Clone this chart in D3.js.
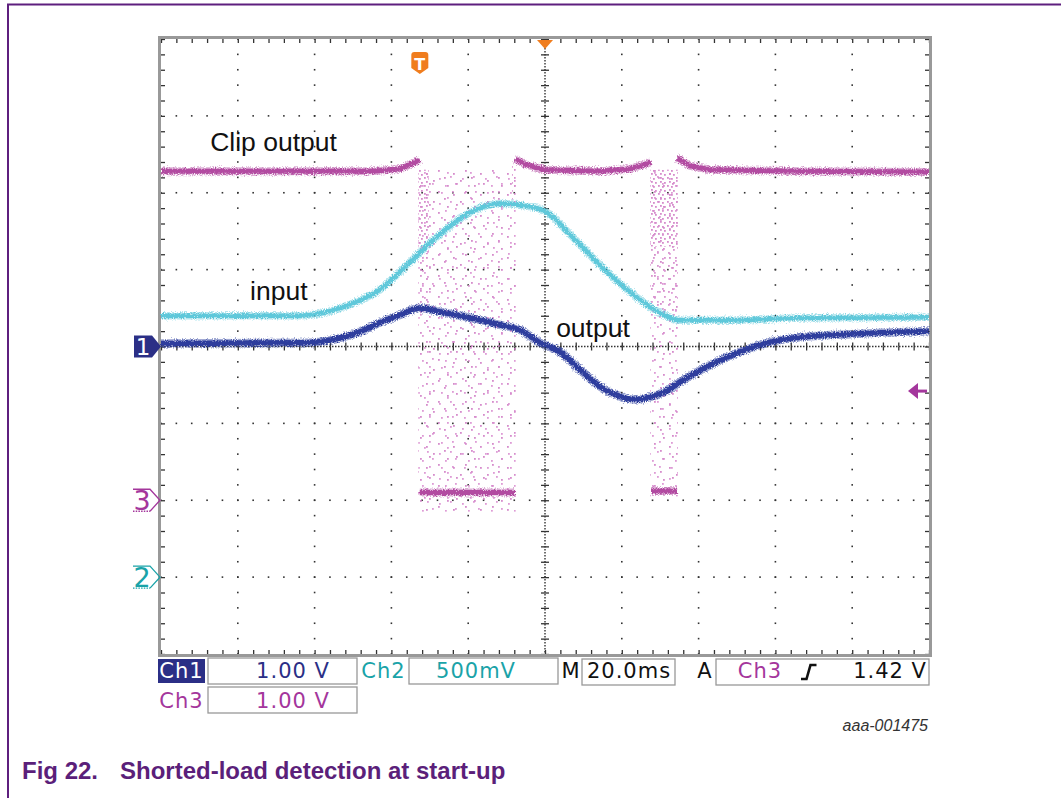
<!DOCTYPE html>
<html>
<head>
<meta charset="utf-8">
<script src="https://cdn.jsdelivr.net/npm/d3@7"></script>
<style>
  body { margin: 0; background: #fff; }
  svg { display: block; }
</style>
</head>
<body>
<svg id="chart" width="1061" height="798"></svg>
<script>
// --- data: [time in ms, volts] ---
const inputTrace = [
  [-100, 1.70], [-75, 1.70], [-64, 1.70], [-56, 1.73], [-48.2, 1.80], [-43, 1.87],
  [-37.8, 1.985], [-29.2, 2.19], [-20.3, 2.36], [-11.7, 2.43], [-6.5, 2.42], [0, 2.38],
  [6.5, 2.23], [14.3, 2.03], [22.1, 1.855], [29.9, 1.72], [35.2, 1.67], [45.6, 1.67],
  [66.4, 1.685], [100, 1.69]
];
const outputTrace = [
  [-100, 0.04], [-62, 0.05], [-53.4, 0.11], [-48.2, 0.19], [-43, 0.31], [-37.8, 0.41],
  [-32.6, 0.50], [-27.3, 0.45], [-22.1, 0.40], [-16.9, 0.345], [-11.7, 0.28], [-6.5, 0.215],
  [-1.3, 0.05], [3.9, -0.07], [9.1, -0.30], [14.3, -0.52], [19.5, -0.65], [23.4, -0.69],
  [27.3, -0.66], [31.2, -0.59], [35.2, -0.46], [40.4, -0.31], [45.6, -0.18], [50.8, -0.07],
  [56, 0.02], [61.2, 0.085], [66.4, 0.12], [79.4, 0.16], [100, 0.20]
];
// clip output comes in pieces: high level, low level while clipping, high again...
const clipTrace = [
  [[-100, 4.28], [-45, 4.28], [-37.8, 4.31], [-34.6, 4.38], [-32.6, 4.43]],
  [[-32.6, 0.10], [-7.8, 0.10]],
  [[-7.8, 4.44], [-5.2, 4.37], [0, 4.30], [14.3, 4.28], [22.1, 4.31], [26.8, 4.38], [27.6, 4.40]],
  [[27.6, 0.12], [34.4, 0.12]],
  [[34.4, 4.45], [37.8, 4.35], [43, 4.30], [66.4, 4.28], [100, 4.27]]
];
// scattered samples while the output toggles
const clipBursts = [
  { from: -33.0, to: -7.6, top: 4.3, bottom: -0.15 },
  { from: 27.4, to: 34.6, top: 4.3, bottom: 0.05 }
];
const clipBurstsDense = [
  { from: -33.0, to: -30.3, top: 4.3, bottom: 3.2 },
  { from: -8.6, to: -7.6, top: 4.4, bottom: 3.9 },
  { from: 27.4, to: 34.6, top: 4.3, bottom: 3.3 }
];
const clipBurstsMedium = [
  { from: -33.0, to: -30.3, top: 3.2, bottom: 2.4 },
  { from: 27.4, to: 34.6, top: 3.3, bottom: 2.4 }
];

const triggerTime = -32.6;   // ms
const triggerLevel = 1.42;   // V on Ch3
const traceLabels = ["Clip output", "input", "output"];
const channelNames = ["Ch1", "Ch2", "Ch3"];
const channelScales = ["1.00 V", "500mV", "1.00 V"];
const timebase = "20.0ms";
const triggerText = "1.42 V";
const figureId = "aaa-001475";
const captionNumber = "Fig 22.";
const captionTitle = "Shorted-load detection at start-up";

// --- setup ---
const svg = d3.select("#chart");
const plotLeft = 161, plotRight = 929, plotTop = 39, plotBottom = 654;

const x = d3.scaleLinear().domain([-100, 100]).range([plotLeft, plotRight]);
const yDiv = d3.scaleLinear().domain([-4, 4]).range([plotBottom, plotTop]);

const ch1 = { vdiv: 1, ground: 0, color: "#2d3d9d", text: "#2b2f86" };
const ch2 = { vdiv: 0.5, ground: -3, color: "#5fc8da", text: "#1aa3a8" };
const ch3 = { vdiv: 1, ground: -2, color: "#b24ca1", text: "#a4369c" };
const yOf = ch => v => yDiv(v / ch.vdiv + ch.ground);

const defs = svg.append("defs");

// noise on the traces
const fuzz = defs.append("filter").attr("id", "fuzz")
  .attr("filterUnits", "userSpaceOnUse")
  .attr("x", 140).attr("y", 20).attr("width", 810).attr("height", 660);
fuzz.append("feTurbulence").attr("type", "fractalNoise")
  .attr("baseFrequency", "0.9").attr("numOctaves", 2).attr("seed", 4).attr("result", "n");
fuzz.append("feDisplacementMap").attr("in", "SourceGraphic").attr("in2", "n")
  .attr("scale", 6).attr("xChannelSelector", "R").attr("yChannelSelector", "G");

// dot patterns for the scattered samples
function dotPattern(id, w, h, dots, size, color) {
  const p = defs.append("pattern").attr("id", id)
    .attr("patternUnits", "userSpaceOnUse").attr("width", w).attr("height", h);
  p.selectAll("rect").data(dots).enter().append("rect")
    .attr("x", d => d[0]).attr("y", d => d[1])
    .attr("width", size).attr("height", size)
    .attr("fill", color);
}
dotPattern("dotsA", 23, 25, [[2, 3], [13, 1], [8, 10], [18, 8], [4, 17], [15, 16], [10, 22]], 1.8, "#d98acf");
dotPattern("dotsB", 27, 21, [[6, 2], [21, 5], [12, 9], [1, 12], [24, 15], [15, 17]], 1.8, "#cf78c4");
dotPattern("dotsC", 9, 8, [[1, 1], [5, 2], [3, 5], [7, 6]], 1.8, "#cf78c4");
dotPattern("dotsD", 11, 13, [[2, 2], [8, 5], [4, 10]], 1.8, "#d384c9");

// --- outer frame ---
svg.append("path")
  .attr("d", "M8,798 V4.5 H1061")
  .attr("fill", "none").attr("stroke", "#5e1f7e").attr("stroke-width", 2);

// --- graticule ---
const grid = svg.append("g");
const fine = d3.range(-4, 4.001, 0.2);
const tMajor = d3.range(-80, 81, 20);
const tMinor = d3.range(-100, 100.001, 4);

// vertical dotted lines
tMajor.filter(t => t !== 0).forEach(t => {
  grid.selectAll(null).data(fine).enter().append("rect")
    .attr("x", x(t) - 0.8).attr("y", d => yDiv(d) - 0.8)
    .attr("width", 1.6).attr("height", 1.6).attr("fill", "#333");
});
// horizontal dotted lines
d3.range(-3, 4).filter(d => d !== 0).forEach(dv => {
  grid.selectAll(null).data(tMinor).enter().append("rect")
    .attr("x", t => x(t) - 0.8).attr("y", yDiv(dv) - 0.8)
    .attr("width", 1.6).attr("height", 1.6).attr("fill", "#333");
});
// centre axes with ticks
grid.append("line")
  .attr("x1", x(0)).attr("x2", x(0)).attr("y1", plotTop).attr("y2", plotBottom)
  .attr("stroke", "#333").attr("stroke-width", 1.4).attr("stroke-dasharray", "1.5,1.5");
grid.append("line")
  .attr("x1", plotLeft).attr("x2", plotRight).attr("y1", yDiv(0)).attr("y2", yDiv(0))
  .attr("stroke", "#333").attr("stroke-width", 1.4).attr("stroke-dasharray", "1.5,1.5");
const centreAxes = [
  [d3.axisLeft(yDiv).tickValues(fine), `translate(${x(0)},0)`],
  [d3.axisRight(yDiv).tickValues(fine), `translate(${x(0)},0)`],
  [d3.axisTop(x).tickValues(tMinor), `translate(0,${yDiv(0)})`],
  [d3.axisBottom(x).tickValues(tMinor), `translate(0,${yDiv(0)})`]
];
// edge ticks
const edgeAxes = [
  [d3.axisBottom(x).tickValues(tMinor), `translate(0,${plotTop})`],
  [d3.axisTop(x).tickValues(tMinor), `translate(0,${plotBottom})`],
  [d3.axisRight(yDiv).tickValues(fine), `translate(${plotLeft},0)`],
  [d3.axisLeft(yDiv).tickValues(fine), `translate(${plotRight},0)`]
];
centreAxes.concat(edgeAxes).forEach(([ax, tr]) => {
  grid.append("g").attr("transform", tr)
    .call(ax.tickSize(4).tickSizeOuter(0).tickFormat(""))
    .call(g => g.select(".domain").remove())
    .call(g => g.selectAll("line").attr("stroke", "#333").attr("stroke-width", 1.3));
});

grid.append("rect")
  .attr("x", plotLeft - 1.5).attr("y", plotTop - 1.5)
  .attr("width", plotRight - plotLeft + 3).attr("height", plotBottom - plotTop + 3)
  .attr("fill", "none").attr("stroke", "#999").attr("stroke-width", 3);

// --- scattered clip samples ---
const y3 = yOf(ch3);
const bursts = svg.append("g").attr("opacity", 0.85);
function burstRects(data, pid) {
  bursts.selectAll(null).data(data).enter().append("rect")
    .attr("x", d => x(d.from)).attr("width", d => x(d.to) - x(d.from))
    .attr("y", d => y3(d.top)).attr("height", d => y3(d.bottom) - y3(d.top))
    .attr("fill", `url(#${pid})`);
}
burstRects(clipBursts, "dotsA");
burstRects(clipBursts, "dotsB");
burstRects(clipBurstsDense, "dotsC");
burstRects(clipBurstsMedium, "dotsD");

// --- traces ---
function drawTrace(data, ch, curve, width) {
  const yc = yOf(ch);
  const line = d3.line().x(d => x(d[0])).y(d => yc(d[1])).curve(curve);
  const g = svg.append("g").attr("filter", "url(#fuzz)");
  g.append("path").datum(data)
    .attr("fill", "none").attr("stroke", ch.color).attr("stroke-opacity", 0.45)
    .attr("stroke-width", width + 3).attr("d", line);
  g.append("path").datum(data)
    .attr("fill", "none").attr("stroke", ch.color)
    .attr("stroke-width", width).attr("d", line);
}
clipTrace.forEach(seg => drawTrace(seg, ch3, d3.curveLinear, 5));
drawTrace(inputTrace, ch2, d3.curveMonotoneX, 4.5);
drawTrace(outputTrace, ch1, d3.curveMonotoneX, 5.5);

// --- trace labels ---
const labelFont = "'Liberation Sans', Arial, sans-serif";
const labelPos = [[x(-87.2), 151], [x(-76.8), 300], [x(2.9), 337]];
svg.selectAll(null).data(traceLabels).enter().append("text")
  .attr("x", (d, i) => labelPos[i][0]).attr("y", (d, i) => labelPos[i][1])
  .attr("font-family", labelFont).attr("font-size", 26.5).attr("fill", "#111")
  .text(d => d);

// --- markers ---
const orange = "#f07d1e";
svg.append("path")
  .attr("d", `M${x(0) - 8},${plotTop + 1} H${x(0) + 8} L${x(0)},${plotTop + 10} Z`)
  .attr("fill", orange);
const tx = x(triggerTime);
svg.append("path")
  .attr("d", `M${tx - 8.5},55 Q${tx - 8.5},52 ${tx - 5.5},52 H${tx + 5.5} Q${tx + 8.5},52 ${tx + 8.5},55 V68 L${tx},74 L${tx - 8.5},68 Z`)
  .attr("fill", orange);
svg.append("text").attr("x", tx).attr("y", 70).attr("text-anchor", "middle")
  .attr("font-family", "'DejaVu Sans', sans-serif").attr("font-weight", "bold")
  .attr("font-size", 16).attr("fill", "#fff").text("T");

// channel ground markers
const markerFont = "'DejaVu Sans', sans-serif";
const g1 = svg.append("g").attr("transform", `translate(${plotLeft},${yDiv(ch1.ground)})`);
g1.append("path").attr("d", "M-27,-11 H-9 L0,0 L-9,11 H-27 Z").attr("fill", ch1.text);
g1.append("text").attr("x", -18).attr("y", 8.5).attr("text-anchor", "middle")
  .attr("font-family", markerFont).attr("font-size", 23).attr("fill", "#fff").text("1");

[[ch3, "3"], [ch2, "2"]].forEach(([ch, lab]) => {
  const g = svg.append("g").attr("transform", `translate(${plotLeft - 1},${yDiv(ch.ground)})`);
  g.append("path").attr("d", "M-27,-11 H-10 L0,0 L-10,11")
    .attr("fill", "none").attr("stroke", ch.text).attr("stroke-width", 1.3);
  g.append("path").attr("d", "M-27,11 H-10")
    .attr("fill", "none").attr("stroke", ch.text).attr("stroke-width", 1.3)
    .attr("stroke-dasharray", "1.5,1.2");
  g.append("text").attr("x", -18).attr("y", 9.5).attr("text-anchor", "middle")
    .attr("font-family", markerFont).attr("font-size", 27).attr("fill", ch.text).text(lab);
});

// trigger level arrow
const gl = svg.append("g").attr("transform", `translate(${plotRight - 2},${y3(triggerLevel)})`);
gl.append("path").attr("d", "M-19,0 L-9,-8 L-9,8 Z").attr("fill", ch3.text);
gl.append("line").attr("x1", -10).attr("x2", 0).attr("y1", 0).attr("y2", 0)
  .attr("stroke", ch3.text).attr("stroke-width", 3);

// --- status bar ---
const statusFont = "'DejaVu Sans', sans-serif";
const bar = svg.append("g")
  .attr("font-family", statusFont).attr("font-size", 21).attr("letter-spacing", 1);
const box = (x0, y0, w, h) => bar.append("rect")
  .attr("x", x0).attr("y", y0).attr("width", w).attr("height", h)
  .attr("fill", "none").attr("stroke", "#999").attr("stroke-width", 1.3);

bar.append("rect").attr("x", 158).attr("y", 659).attr("width", 47).attr("height", 24).attr("fill", ch1.text);
bar.append("text").attr("x", 181.5).attr("y", 678).attr("text-anchor", "middle")
  .attr("fill", "#fff").text(channelNames[0]);
box(208, 658, 149, 26);
bar.append("text").attr("x", 293).attr("y", 678).attr("text-anchor", "middle")
  .attr("fill", ch1.text).text(channelScales[0]);

bar.append("text").attr("x", 383.5).attr("y", 678).attr("text-anchor", "middle")
  .attr("fill", ch2.text).text(channelNames[1]);
box(409, 658, 149, 26);
bar.append("text").attr("x", 476).attr("y", 678).attr("text-anchor", "middle")
  .attr("fill", ch2.text).text(channelScales[1]);

bar.append("text").attr("x", 571).attr("y", 678).attr("text-anchor", "middle")
  .attr("fill", "#111").text("M");
box(582, 659, 93, 26);
bar.append("text").attr("x", 629).attr("y", 678).attr("text-anchor", "middle")
  .attr("fill", "#111").text(timebase);

bar.append("text").attr("x", 705).attr("y", 678).attr("text-anchor", "middle")
  .attr("fill", "#111").text("A");
box(716, 659, 213, 26);
bar.append("text").attr("x", 760).attr("y", 678).attr("text-anchor", "middle")
  .attr("fill", ch3.text).text(channelNames[2]);
bar.append("path").attr("d", "M801,679 H806.5 L810.5,665 H816.5")
  .attr("fill", "none").attr("stroke", "#111").attr("stroke-width", 2.6);
bar.append("text").attr("x", 927).attr("y", 678).attr("text-anchor", "end")
  .attr("fill", "#111").text(triggerText);

bar.append("text").attr("x", 181.5).attr("y", 708).attr("text-anchor", "middle")
  .attr("fill", ch3.text).text(channelNames[2]);
box(208, 687, 149, 26);
bar.append("text").attr("x", 293).attr("y", 708).attr("text-anchor", "middle")
  .attr("fill", ch3.text).text(channelScales[2]);

// --- figure id and caption ---
svg.append("text").attr("x", 928).attr("y", 731).attr("text-anchor", "end")
  .attr("font-family", labelFont).attr("font-style", "italic").attr("font-size", 16)
  .attr("fill", "#333").text(figureId);

const cap = svg.append("g")
  .attr("font-family", labelFont).attr("font-weight", "bold").attr("font-size", 24)
  .attr("fill", "#5b1f7a");
cap.append("text").attr("x", 22).attr("y", 779).text(captionNumber);
cap.append("text").attr("x", 120).attr("y", 779).text(captionTitle);
</script>
</body>
</html>
